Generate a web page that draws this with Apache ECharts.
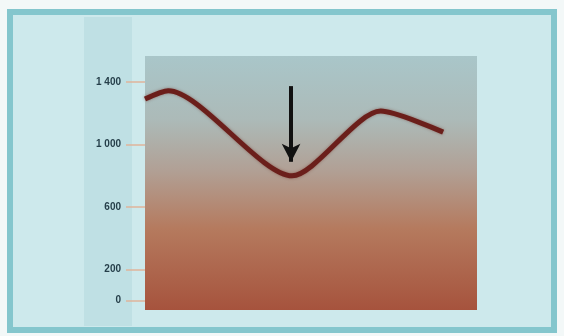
<!DOCTYPE html>
<html>
<head>
<meta charset="utf-8">
<script src="https://cdn.jsdelivr.net/npm/echarts@6/dist/echarts.min.js"></script>
<style>
html,body{margin:0;padding:0;background:#f3f8f8;}
#c{width:564px;height:336px;}
</style>
</head>
<body>
<div id="c"></div>
<script>
// Data
var xPositions = [0, 7, 44.3, 71, 89.8];
var values     = [1292, 1345, 800, 1215, 1080];
var tickValues = [0, 200, 600, 1000, 1400];
var arrowX = 44;
var arrowFrom = 1375;
var arrowTo = 890;

var lineData = xPositions.map(function (x, i) { return [x, values[i]]; });

var chart = echarts.init(document.getElementById('c'));
chart.setOption({
  animation: false,
  backgroundColor: '#f3f8f8',
  graphic: [
    { type: 'rect', z: -10, shape: { x: 10, y: 12, width: 544, height: 318 },
      style: { fill: '#cde9ec', stroke: '#84c6cd', lineWidth: 6 } },
    { type: 'rect', z: -9, shape: { x: 84, y: 17, width: 48, height: 309 },
      style: { fill: '#bfe0e4' } }
  ],
  grid: {
    left: 145, right: 87, top: 56, bottom: 26,
    show: true,
    borderWidth: 0,
    backgroundColor: {
      type: 'linear', x: 0, y: 0, x2: 0, y2: 1,
      colorStops: [
        { offset: 0, color: '#a9c6c9' },
        { offset: 0.25, color: '#acbab8' },
        { offset: 0.45, color: '#b1a095' },
        { offset: 0.68, color: '#b57a5e' },
        { offset: 1, color: '#a6533d' }
      ]
    }
  },
  xAxis: {
    type: 'value', min: 0, max: 100, show: false
  },
  yAxis: {
    type: 'value', min: -60, max: 1568,
    axisLine: { show: false },
    splitLine: { show: false },
    axisTick: {
      show: true, customValues: tickValues, length: 19,
      lineStyle: { color: '#e0b49a', width: 1.5 }
    },
    axisLabel: {
      customValues: tickValues, margin: 24,
      color: '#263f4a', fontSize: 10, fontWeight: 'bold',
      fontFamily: 'Liberation Sans Narrow, Liberation Sans, sans-serif',
      formatter: function (v) {
        return String(v).replace(/\B(?=(\d{3})+(?!\d))/g, ' ');
      }
    }
  },
  series: [{
    type: 'line',
    data: lineData,
    smooth: 0.25,
    symbol: 'none',
    lineStyle: { color: '#6b1f1b', width: 5, shadowColor: 'rgba(110,40,30,0.5)', shadowBlur: 3 },
    markLine: {
      silent: true,
      symbol: ['none', 'arrow'],
      symbolSize: [14, 18],
      label: { show: false },
      lineStyle: { color: '#111', width: 4, type: 'solid' },
      data: [[{ coord: [arrowX, arrowFrom] }, { coord: [arrowX, arrowTo] }]]
    }
  }]
});
</script>
</body>
</html>
